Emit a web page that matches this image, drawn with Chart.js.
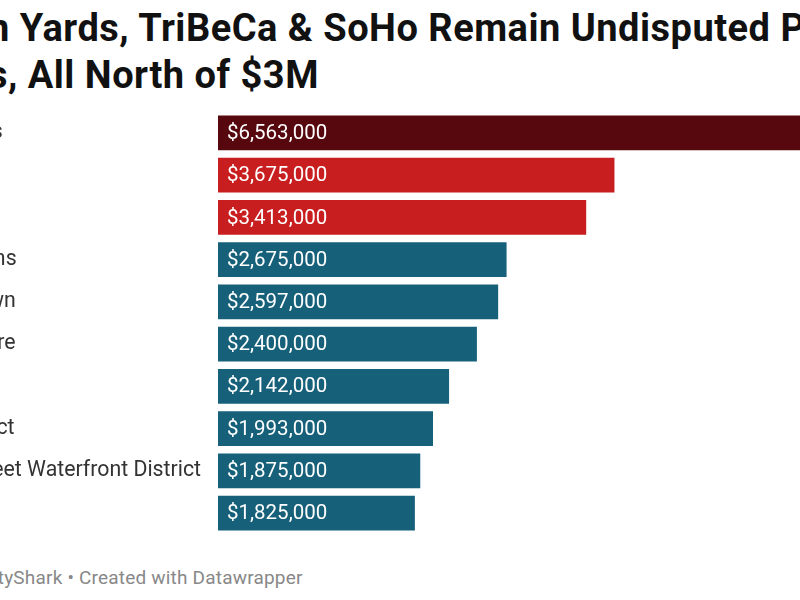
<!DOCTYPE html>
<html>
<head>
<meta charset="utf-8">
<script src="https://cdn.jsdelivr.net/npm/chart.js@4.4.1/dist/chart.umd.min.js"></script>
<style>
  html, body { margin: 0; width: 800px; height: 600px; overflow: hidden; background: #fff; font-family: Roboto, sans-serif; }
  #wrap { position: absolute; left: -130px; top: 0; width: 1070px; height: 600px; }
  h1 { position: absolute; left: 5px; top: 5px; margin: 0; font-size: 38px; font-weight: 700; line-height: 47px; letter-spacing: 0.5px; color: #111; white-space: nowrap; }
  #chartBox { position: absolute; left: 0; top: 99px; width: 1070px; height: 448px; }
  #foot { position: absolute; left: 0; top: 566px; font-size: 19px; letter-spacing: 0.2px; color: #888; white-space: nowrap; }
</style>
</head>
<body>
<div id="wrap">
  <h1>Hudson Yards, TriBeCa &amp; SoHo Remain Undisputed Priciest Neighborhoods for<br>Condos, All North of $3M</h1>
  <div id="chartBox"><canvas id="priceChart"></canvas></div>
  <div id="foot">Source: PropertyShark • Created with Datawrapper</div>
</div>
<script>
// datos del gráfico
const neighborhoods = [
  'Hudson Yards',
  'TriBeCa',
  'SoHo',
  'Carroll Gardens',
  'Lower Midtown',
  'Hudson Square',
  'NoHo',
  'Flatiron District',
  'Columbia Street Waterfront District',
  'Cobble Hill'
];
const medianPrices = [6563000, 3675000, 3413000, 2675000, 2597000, 2400000, 2142000, 1993000, 1875000, 1825000];

// top 1 granate, 2-3 rojo, resto azul petróleo
function barColor(i) {
  if (i === 0) return '#56080e';
  if (i < 3) return '#c81e1f';
  return '#16607a';
}

// etiquetas de valor dentro de cada barra
const valueLabels = {
  id: 'valueLabels',
  afterDatasetsDraw(chart) {
    const ctx = chart.ctx;
    const meta = chart.getDatasetMeta(0);
    ctx.save();
    ctx.font = '20.5px Roboto';
    ctx.fillStyle = '#ffffff';
    ctx.textBaseline = 'middle';
    meta.data.forEach((bar, i) => {
      ctx.fillText('$' + medianPrices[i].toLocaleString('en-US'), bar.base + 9, bar.y + 1);
    });
    ctx.restore();
  }
};

new Chart(document.getElementById('priceChart'), {
  type: 'bar',
  data: {
    labels: neighborhoods,
    datasets: [{
      data: medianPrices,
      backgroundColor: medianPrices.map((v, i) => barColor(i)),
      borderWidth: 0,
      categoryPercentage: 1,
      barPercentage: 0.82
    }]
  },
  options: {
    indexAxis: 'y',
    responsive: true,
    maintainAspectRatio: false,
    animation: false,
    layout: { padding: { left: 0, right: 14, top: 0, bottom: 0 } },
    scales: {
      x: { display: false, min: 0, max: Math.max(...medianPrices) },
      y: {
        grid: { display: false },
        border: { display: false },
        afterFit: scale => { scale.width = 348; },
        ticks: {
          crossAlign: 'far',
          padding: 0,
          autoSkip: false,
          color: '#333',
          font: { family: 'Roboto', size: 21.3 }
        }
      }
    },
    plugins: {
      legend: { display: false },
      tooltip: { enabled: false }
    }
  },
  plugins: [valueLabels]
});
</script>
</body>
</html>
